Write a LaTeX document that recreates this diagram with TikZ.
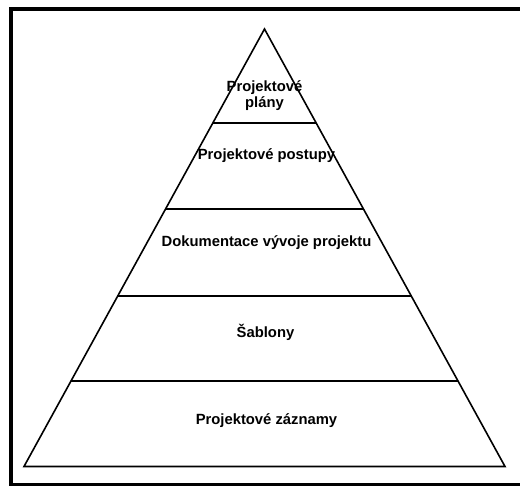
\documentclass[tikz,border=0pt]{standalone}
\usepackage{fontspec}
\setmainfont{Liberation Sans}
\usetikzlibrary{calc}
\begin{document}
\begin{tikzpicture}[x=1pt,y=-1pt,
  edge/.style={line width=1.6pt,line join=miter},
  layer/.style={line width=1.8pt},
  label/.style={font=\bfseries\fontsize{14.8}{16}\selectfont,anchor=base,inner sep=0pt,align=center}]
  \useasboundingbox (0,0) rectangle (520,486);
  \clip (0,0) rectangle (520,486);
  % outer frame (right side runs past the page)
  \draw[line width=4pt] (11,9) rectangle (524,485.5);
  % pyramid outline
  \coordinate (apex) at (264.5,29);
  \coordinate (bl) at (24,466.5);
  \coordinate (br) at (505,466.5);
  \draw[edge] (bl) -- (apex) -- (br) -- cycle;
  % layer boundaries
  \foreach \yy/\nm in {123/a,209/b,296/c,381/d}{
    \pgfmathsetmacro{\t}{(\yy-29)/(466.5-29)}
    \coordinate (l\nm) at ($(apex)!\t!(bl)$);
    \coordinate (r\nm) at ($(apex)!\t!(br)$);
    \draw[layer] (l\nm) -- (r\nm);
  }
  % layer captions
  \node[label] (plany) at (264.5,92) {Projektové};
  \node[label] (plany2) at (264.5,108) {plány};
  \node[label] (postupy) at (266.5,160) {Projektové postupy};
  \node[label] (dokumentace) at (266.5,247) {Dokumentace vývoje projektu};
  \node[label] (sablony) at (265.5,338) {Šablony};
  \node[label] (zaznamy) at (266.5,425) {Projektové záznamy};
\end{tikzpicture}
\end{document}
